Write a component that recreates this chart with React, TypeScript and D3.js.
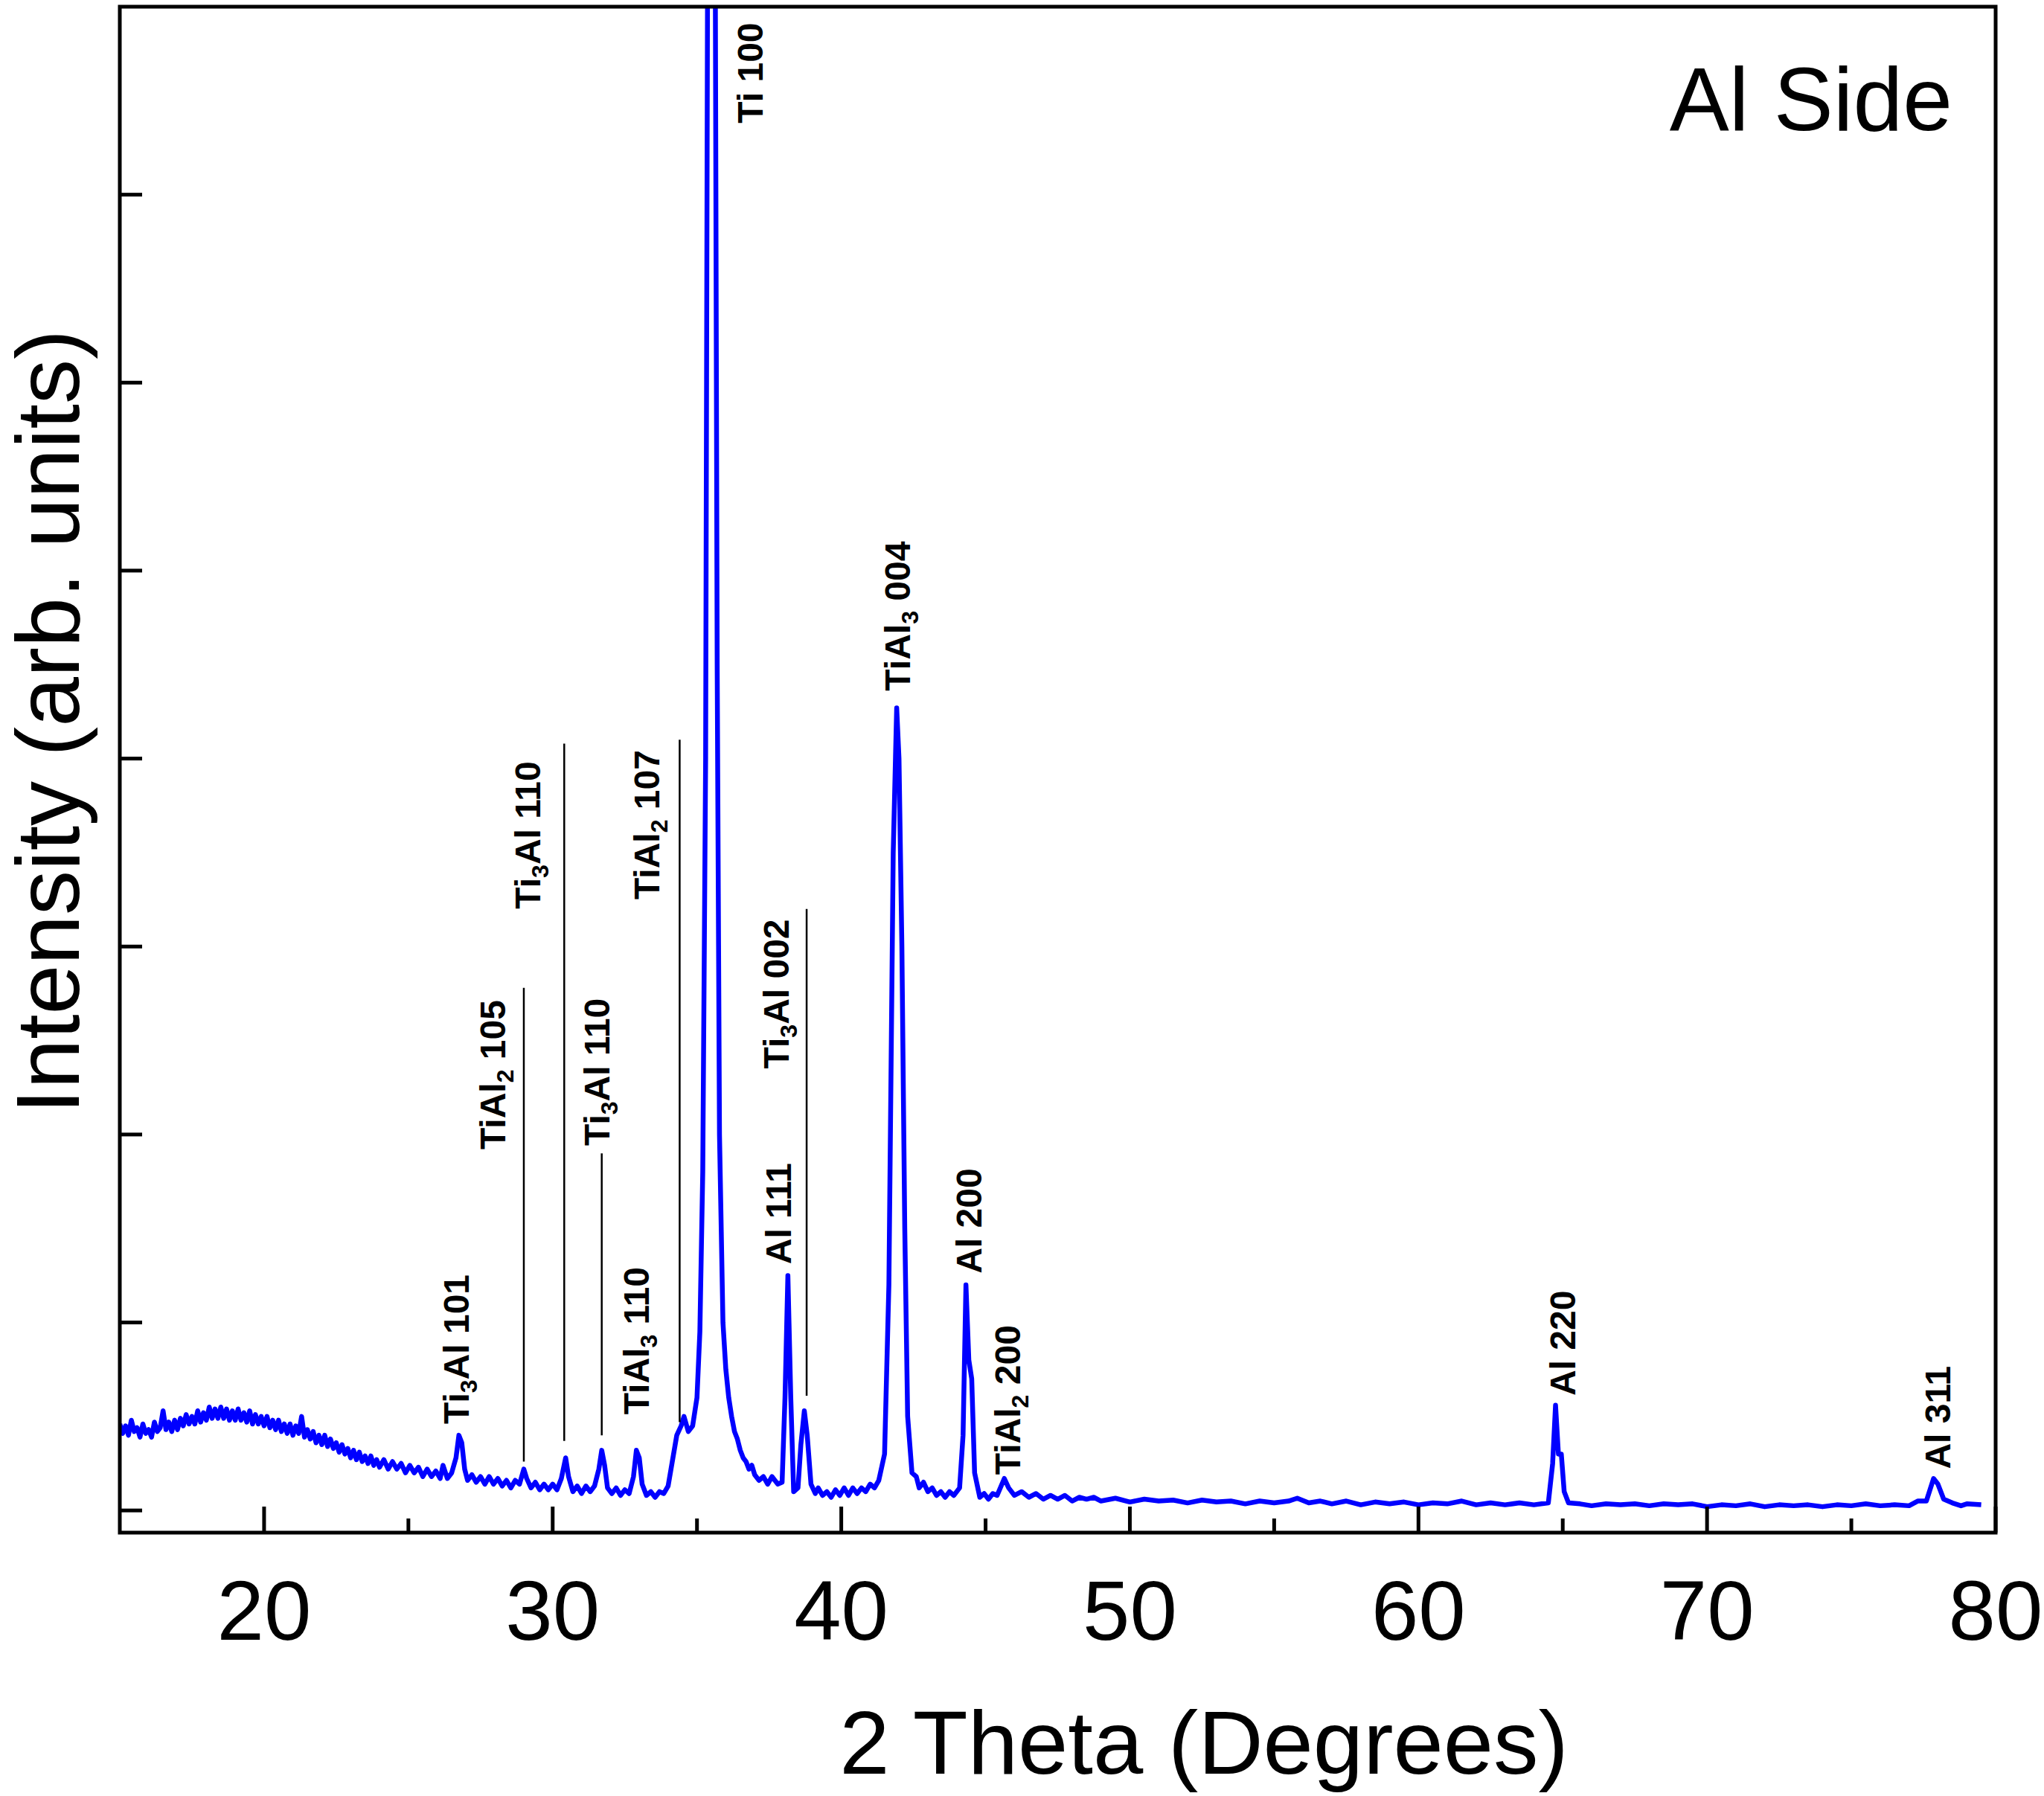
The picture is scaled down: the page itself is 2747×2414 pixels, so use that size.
import React from "react";
import * as d3 from "d3";

const spectrum: [number, number][] = [
[15.0,.46],[15.1,.41],[15.2,.45],[15.3,.40],[15.4,.48],[15.5,.42],[15.6,.44],[15.7,.39],[15.8,.46],[15.9,.41],[16.0,.43],[16.1,.39],[16.2,.47],[16.3,.42],[16.4,.44],[16.5,.53],[16.6,.43],[16.7,.47],[16.8,.42],[16.9,.48],[17.0,.43],[17.1,.49],[17.2,.45],[17.3,.51],[17.4,.46],[17.5,.50],[17.6,.46],[17.7,.53],[17.8,.47],[17.9,.52],[18.0,.48],[18.1,.55],[18.2,.49],[18.3,.54],[18.4,.49],[18.5,.55],[18.6,.49],[18.7,.54],[18.8,.48],[18.9,.53],[19.0,.48],[19.1,.54],[19.2,.48],[19.3,.52],[19.4,.47],[19.5,.53],[19.6,.46],[19.7,.51],[19.8,.46],[19.9,.50],[20.0,.45],[20.1,.50],[20.2,.44],[20.3,.48],[20.4,.43],[20.5,.48],[20.6,.42],[20.7,.46],[20.8,.41],[20.9,.46],[21.0,.40],[21.1,.45],[21.2,.41],[21.3,.50],[21.4,.39],[21.5,.43],[21.6,.38],[21.7,.42],[21.8,.36],[21.9,.40],[22.0,.35],[22.1,.40],[22.2,.34],[22.3,.38],[22.4,.33],[22.5,.36],[22.6,.31],[22.7,.35],[22.8,.30],[22.9,.33],[23.0,.28],[23.1,.32],[23.2,.27],[23.3,.31],[23.4,.26],[23.5,.29],[23.6,.25],[23.7,.29],[23.8,.24],[23.9,.27],[24.0,.23],[24.15,.27],[24.3,.22],[24.45,.26],[24.6,.22],[24.75,.25],[24.9,.20],[25.05,.24],[25.2,.20],[25.35,.23],[25.5,.18],[25.65,.22],[25.8,.18],[25.95,.21],[26.1,.17],[26.2,.24],[26.35,.17],[26.5,.20],[26.65,.28],[26.75,.40],[26.85,.36],[26.95,.22],[27.05,.16],[27.2,.19],[27.35,.15],[27.5,.18],[27.65,.14],[27.8,.18],[27.95,.14],[28.1,.17],[28.25,.13],[28.4,.16],[28.55,.12],[28.7,.16],[28.85,.14],[29.0,.22],[29.1,.17],[29.25,.12],[29.4,.15],[29.55,.11],[29.7,.14],[29.85,.11],[30.0,.14],[30.15,.11],[30.3,.17],[30.45,.28],[30.55,.18],[30.7,.10],[30.85,.13],[31.0,.09],[31.15,.13],[31.3,.10],[31.45,.13],[31.6,.22],[31.7,.32],[31.8,.24],[31.9,.12],[32.05,.09],[32.2,.12],[32.35,.08],[32.5,.11],[32.65,.09],[32.8,.18],[32.9,.32],[33.0,.28],[33.1,.14],[33.25,.08],[33.4,.10],[33.55,.07],[33.7,.10],[33.85,.09],[34.0,.13],[34.1,.22],[34.3,.40],[34.45,.45],[34.55,.50],[34.7,.42],[34.85,.45],[35.0,.60],[35.1,.95],[35.2,1.8],[35.3,4.0],[35.38,9],[35.5,12],[35.62,9],[35.7,4.5],[35.78,2.0],[35.9,1.0],[36.0,.75],[36.1,.60],[36.2,.50],[36.3,.42],[36.4,.38],[36.5,.32],[36.6,.28],[36.7,.26],[36.8,.22],[36.9,.24],[37.0,.19],[37.15,.16],[37.3,.18],[37.45,.14],[37.6,.18],[37.8,.14],[37.95,.15],[38.05,.60],[38.15,1.25],[38.25,.60],[38.35,.10],[38.5,.12],[38.6,.35],[38.72,.53],[38.82,.40],[38.95,.14],[39.1,.09],[39.2,.12],[39.35,.08],[39.5,.10],[39.65,.07],[39.8,.11],[39.95,.08],[40.1,.12],[40.25,.08],[40.4,.12],[40.55,.09],[40.7,.12],[40.85,.10],[41.0,.14],[41.15,.12],[41.3,.16],[41.5,.30],[41.65,1.2],[41.8,3.5],[41.92,4.27],[42.0,4.0],[42.1,3.0],[42.2,1.5],[42.3,.50],[42.45,.20],[42.6,.18],[42.7,.12],[42.85,.15],[43.0,.10],[43.15,.12],[43.3,.08],[43.45,.10],[43.6,.07],[43.75,.10],[43.9,.08],[44.1,.12],[44.22,.40],[44.32,1.2],[44.42,.8],[44.52,.70],[44.62,.20],[44.8,.07],[44.95,.09],[45.1,.06],[45.25,.09],[45.4,.08],[45.65,.17],[45.8,.12],[46.0,.08],[46.25,.10],[46.5,.07],[46.75,.09],[47,.06],[47.25,.08],[47.5,.06],[47.75,.08],[48,.05],[48.25,.07],[48.5,.06],[48.75,.07],[49,.05],[49.5,.065],[50,.045],[50.5,.06],[51,.05],[51.5,.055],[52,.04],[52.5,.055],[53,.045],[53.5,.05],[54,.035],[54.5,.05],[55,.04],[55.5,.05],[55.8,.065],[56.2,.04],[56.6,.05],[57,.035],[57.5,.05],[58,.03],[58.5,.045],[59,.035],[59.5,.045],[60,.03],[60.5,.04],[61,.035],[61.5,.05],[62,.03],[62.5,.04],[63,.03],[63.5,.04],[64,.03],[64.5,.04],[64.65,.25],[64.75,.56],[64.85,.30],[64.95,.30],[65.05,.10],[65.2,.04],[65.6,.035],[66,.025],[66.5,.035],[67,.03],[67.5,.035],[68,.025],[68.5,.035],[69,.03],[69.5,.035],[70,.02],[70.5,.03],[71,.025],[71.5,.035],[72,.02],[72.5,.03],[73,.025],[73.5,.03],[74,.02],[74.5,.03],[75,.025],[75.5,.035],[76,.025],[76.5,.03],[77,.025],[77.3,.05],[77.6,.05],[77.85,.17],[78.0,.14],[78.2,.06],[78.5,.04],[78.8,.025],[79,.035],[79.5,.03]
];

// [x, yTop, yBottom]
const markerLines: [number, number, number][] = [
  [29.0, 2.78, 0.26],[30.4, 4.08, 0.37],[31.7, 1.90, 0.40],[34.4, 4.10, 0.47],[38.8, 3.2, 0.61]
];

// [main, sub, rest, x, y]
const peakLabels: [string, string, string, number, number][] = [
  ["Ti","3","Al 101",26.65,0.46],
  ["TiAl","2"," 105",27.92,1.92],
  ["Ti","3","Al 110",29.14,3.20],
  ["Ti","3","Al 110",31.54,1.94],
  ["TiAl","3"," 110",32.9,0.51],
  ["TiAl","2"," 107",33.26,3.25],
  ["Ti 100","","",36.83,7.38],
  ["Ti","3","Al 002",37.74,2.35],
  ["Al 111","","",37.83,1.31],
  ["TiAl","3"," 004",41.95,4.36],
  ["Al 200","","",44.43,1.26],
  ["TiAl","2"," 200",45.75,0.19],
  ["Al 220","","",65.0,0.61],
  ["Al 311","","",78.0,0.22],
];

const xMajor = [20,30,40,50,60,70,80];
const xMinor = [25,35,45,55,65,75];
const yTicks = [0,1,2,3,4,5,6,7];

const W = 2747, H = 2414;
const L = 161, R = 2682, T = 9, B = 2060;

export default function App() {
  const x = d3.scaleLinear().domain([15, 80]).range([L, R]);
  const y = d3.scaleLinear().domain([-0.118, 8]).range([B, T]);
  const line = d3.line<[number, number]>().x(d => x(d[0])).y(d => y(d[1]));
  const font = "'Liberation Sans', Arial, sans-serif";
  return (
    <svg width={W} height={H} style={{ position: "absolute", left: 0, top: 0, background: "#fff" }}>
      <defs>
        <clipPath id="clip"><rect x={L} y={T} width={R - L} height={B - T} /></clipPath>
      </defs>
      <path d={line(spectrum) || ""} fill="none" stroke="#0000ff" strokeWidth={6.5} strokeLinejoin="round" clipPath="url(#clip)" />
      {markerLines.map((m, i) => (
        <line key={i} x1={x(m[0])} x2={x(m[0])} y1={y(m[1])} y2={y(m[2])} stroke="#000" strokeWidth={2.5} />
      ))}
      {peakLabels.map((p, i) => (
        <text key={i} transform={`translate(${x(p[3]) + 17},${y(p[4])}) rotate(-90)`} fontFamily={font} fontWeight="bold" fontSize={48} fill="#000">
          {p[0]}
          {p[1] && <tspan fontSize={32} dy={11}>{p[1]}</tspan>}
          {p[2] && <tspan dy={p[1] ? -11 : 0}>{p[2]}</tspan>}
        </text>
      ))}
      <rect x={L} y={T} width={R - L} height={B - T} fill="none" stroke="#000" strokeWidth={5} />
      {xMajor.map(v => <line key={"M" + v} x1={x(v)} x2={x(v)} y1={B} y2={B - 35} stroke="#000" strokeWidth={5} />)}
      {xMinor.map(v => <line key={"m" + v} x1={x(v)} x2={x(v)} y1={B} y2={B - 19} stroke="#000" strokeWidth={5} />)}
      {yTicks.map(v => <line key={"y" + v} x1={L} x2={L + 30} y1={y(v)} y2={y(v)} stroke="#000" strokeWidth={5} />)}
      {xMajor.map(v => (
        <text key={"t" + v} x={x(v)} y={2204} textAnchor="middle" fontFamily={font} fontSize={114} fill="#000">{v}</text>
      ))}
      <text x={1618} y={2384} textAnchor="middle" fontFamily={font} fontSize={121} fill="#000">2 Theta (Degrees)</text>
      <text transform={`translate(106,970) rotate(-90)`} textAnchor="middle" fontFamily={font} fontSize={120} fill="#000">Intensity (arb. units)</text>
      <text x={2624} y={175} textAnchor="end" fontFamily={font} fontSize={120} fill="#000">Al Side</text>
    </svg>
  );
}
